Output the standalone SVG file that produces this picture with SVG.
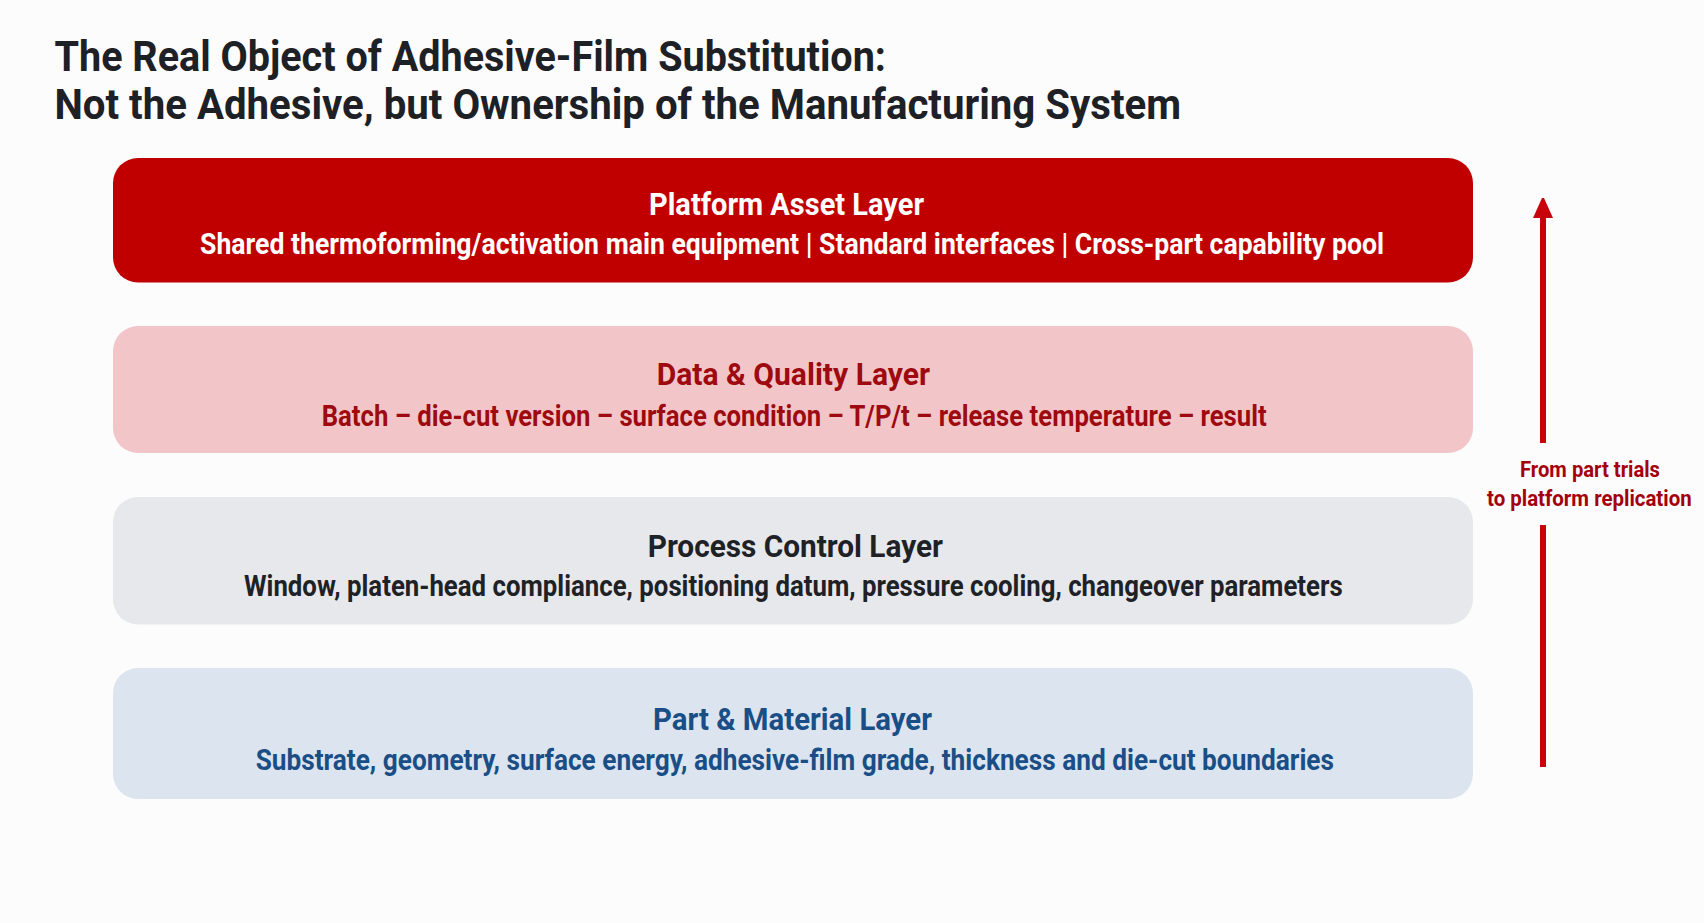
<svg xmlns="http://www.w3.org/2000/svg" width="1704" height="923" viewBox="0 0 1704 923">
  <style>
    text { font-family: Roboto, "Liberation Sans", Arial, sans-serif; font-weight: 700; }
    .title { font-size: 42px; fill: #1d2024; }
    .head { font-size: 31px; }
    .sub { font-size: 29px; }
    .note { font-size: 22px; fill: #a3000c; }
    .conn { stroke: #c8000b; stroke-width: 6; fill: none; }
  </style>
  <defs>
    <marker id="ahead" viewBox="0 0 20 20" refX="0" refY="10" markerWidth="20" markerHeight="20" markerUnits="userSpaceOnUse" orient="auto">
      <path d="M0,0 L20,9 L20,11 L0,20 z" fill="#c8000b"/>
    </marker>
  </defs>
  <rect width="1704" height="923" fill="#fcfcfc"/>

  <g id="title">
    <text class="title" x="54.5" y="71" textLength="831.5" lengthAdjust="spacingAndGlyphs">The Real Object of Adhesive-Film Substitution:</text>
    <text class="title" x="54.5" y="119" textLength="1126.5" lengthAdjust="spacingAndGlyphs">Not the Adhesive, but Ownership of the Manufacturing System</text>
  </g>

  <g id="platform-asset-layer">
    <rect x="113" y="158" width="1360" height="124.5" rx="25" fill="#c00000"/>
    <text class="head" x="649" y="215" textLength="275" lengthAdjust="spacingAndGlyphs" fill="#ffffff">Platform Asset Layer</text>
    <text class="sub" x="200" y="254" textLength="1184" lengthAdjust="spacingAndGlyphs" fill="#ffffff">Shared thermoforming/activation main equipment | Standard interfaces | Cross-part capability pool</text>
  </g>

  <g id="data-quality-layer">
    <rect x="113" y="326" width="1360" height="127" rx="25" fill="#f2c6c8"/>
    <text class="head" x="656.7" y="385" textLength="273.3" lengthAdjust="spacingAndGlyphs" fill="#9e0a10">Data &amp; Quality Layer</text>
    <text class="sub" x="321.7" y="426" textLength="945" lengthAdjust="spacingAndGlyphs" fill="#9e0a10">Batch – die-cut version – surface condition – T/P/t – release temperature – result</text>
  </g>

  <g id="process-control-layer">
    <rect x="113" y="497" width="1360" height="127.5" rx="25" fill="#e6e8ec"/>
    <text class="head" x="647.7" y="556.7" textLength="295.3" lengthAdjust="spacingAndGlyphs" fill="#1e2226">Process Control Layer</text>
    <text class="sub" x="244" y="596" textLength="1098.7" lengthAdjust="spacingAndGlyphs" fill="#1e2226">Window, platen-head compliance, positioning datum, pressure cooling, changeover parameters</text>
  </g>

  <g id="part-material-layer">
    <rect x="113" y="668" width="1360" height="131" rx="25" fill="#dce5ef"/>
    <text class="head" x="653" y="730" textLength="279" lengthAdjust="spacingAndGlyphs" fill="#1a4e86">Part &amp; Material Layer</text>
    <text class="sub" x="255.7" y="770" textLength="1078.3" lengthAdjust="spacingAndGlyphs" fill="#1a4e86">Substrate, geometry, surface energy, adhesive-film grade, thickness and die-cut boundaries</text>
  </g>

  <g id="connectors">
    <line class="conn" x1="1543" y1="767" x2="1543" y2="525"/>
    <line class="conn" x1="1543" y1="443" x2="1543" y2="218" marker-end="url(#ahead)"/>
  </g>

  <g id="progression-label">
    <text class="note" x="1520" y="476.7" textLength="140" lengthAdjust="spacingAndGlyphs">From part trials</text>
    <text class="note" x="1487" y="506" textLength="204.7" lengthAdjust="spacingAndGlyphs">to platform replication</text>
  </g>
</svg>
